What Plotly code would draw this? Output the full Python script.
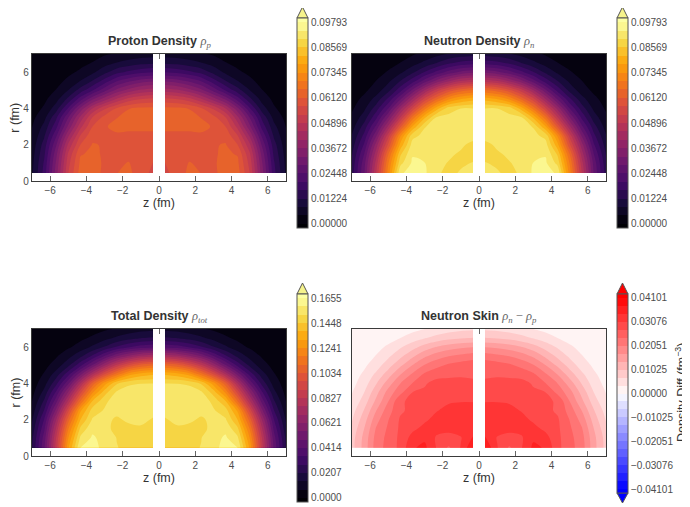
import plotly.graph_objects as go

# ---------- data (right half, mirrored about z = 0) ----------
z_half = [0.33, 1.0, 1.67, 2.33, 3.0, 3.67, 4.33, 5.0, 5.67, 6.33, 7.0]
r_vals = [0.45, 1.0, 1.5, 2.0, 2.5, 3.0, 3.5, 4.0, 4.5, 5.0, 5.5, 6.0, 6.5, 7.0]

rho_p = [
    [.0563, .0586, .0623, .0611, .0605, .0626, .0630, .0530, .0347, .0178, .0075],
    [.0570, .0593, .0614, .0605, .0608, .0623, .0621, .0516, .0333, .0169, .0070],
    [.0586, .0595, .0600, .0600, .0608, .0619, .0609, .0497, .0314, .0155, .0064],
    [.0593, .0595, .0598, .0600, .0609, .0615, .0572, .0459, .0281, .0141, .0056],
    [.0605, .0605, .0605, .0605, .0608, .0600, .0534, .0403, .0239, .0117, .0047],
    [.0619, .0619, .0619, .0623, .0608, .0572, .0478, .0338, .0192, .0094, .0040],
    [.0628, .0628, .0623, .0611, .0586, .0534, .0422, .0286, .0155, .0070, .0030],
    [.0623, .0621, .0611, .0577, .0525, .0450, .0338, .0211, .0103, .0047, .0020],
    [.0544, .0534, .0511, .0459, .0394, .0323, .0230, .0136, .0068, .0032, .0013],
    [.0431, .0417, .0384, .0338, .0272, .0202, .0141, .0083, .0043, .0019, .0008],
    [.0323, .0309, .0281, .0244, .0183, .0127, .0084, .0052, .0026, .0011, .0005],
    [.0202, .0192, .0173, .0150, .0111, .0073, .0049, .0031, .0016, .0007, .0003],
    [.0117, .0111, .0098, .0084, .0064, .0043, .0028, .0017, .0009, .0004, .0002],
    [.0061, .0058, .0052, .0045, .0036, .0023, .0015, .0009, .0005, .0002, .0001],
]
rho_n = [
    [.0905, .0903, .0885, .0905, .0945, .0948, .0935, .0715, .0490, .0280, .0145],
    [.0900, .0890, .0895, .0910, .0940, .0945, .0885, .0690, .0465, .0270, .0135],
    [.0880, .0892, .0905, .0915, .0925, .0935, .0850, .0650, .0430, .0245, .0120],
    [.0885, .0905, .0915, .0920, .0920, .0915, .0790, .0580, .0385, .0210, .0103],
    [.0915, .0915, .0915, .0915, .0910, .0885, .0730, .0515, .0320, .0175, .0085],
    [.0918, .0918, .0915, .0915, .0895, .0780, .0605, .0420, .0255, .0140, .0065],
    [.0915, .0915, .0910, .0905, .0810, .0670, .0495, .0330, .0195, .0103, .0050],
    [.0898, .0898, .0880, .0800, .0680, .0540, .0395, .0245, .0143, .0073, .0035],
    [.0805, .0780, .0735, .0650, .0550, .0415, .0285, .0175, .0098, .0052, .0025],
    [.0660, .0635, .0585, .0510, .0410, .0295, .0190, .0110, .0060, .0032, .0016],
    [.0475, .0455, .0405, .0345, .0265, .0187, .0125, .0074, .0042, .0023, .0012],
    [.0315, .0295, .0262, .0215, .0165, .0114, .0074, .0045, .0026, .0014, .0007],
    [.0188, .0178, .0155, .0124, .0092, .0065, .0042, .0026, .0015, .0008, .0004],
    [.0104, .0097, .0085, .0068, .0052, .0036, .0024, .0014, .0008, .0004, .0002],
]
rho_tot = [
    [.1490, .1495, .1500, .1520, .1570, .1605, .1590, .1300, .0860, .0470, .0205],
    [.1500, .1500, .1502, .1515, .1565, .1595, .1530, .1240, .0830, .0445, .0190],
    [.1505, .1510, .1505, .1505, .1530, .1570, .1465, .1170, .0770, .0400, .0160],
    [.1513, .1528, .1525, .1510, .1530, .1525, .1380, .1075, .0690, .0350, .0130],
    [.1530, .1540, .1540, .1530, .1525, .1480, .1300, .0945, .0575, .0280, .0100],
    [.1575, .1575, .1570, .1560, .1500, .1390, .1115, .0780, .0460, .0220, .0070],
    [.1580, .1580, .1570, .1530, .1420, .1230, .0945, .0630, .0360, .0160, .0048],
    [.1517, .1515, .1500, .1440, .1280, .1060, .0760, .0470, .0255, .0110, .0034],
    [.1370, .1345, .1280, .1140, .0970, .0760, .0530, .0320, .0170, .0075, .0024],
    [.1100, .1060, .0975, .0850, .0680, .0490, .0325, .0190, .0098, .0048, .0016],
    [.0750, .0715, .0640, .0550, .0420, .0290, .0190, .0115, .0062, .0030, .0012],
    [.0400, .0380, .0340, .0285, .0215, .0150, .0098, .0060, .0034, .0017, .0008],
    [.0215, .0205, .0180, .0150, .0115, .0080, .0054, .0033, .0019, .0010, .0005],
    [.0120, .0112, .0095, .0075, .0058, .0042, .0028, .0017, .0009, .0004, .0002],
]
rho_diff = [
    [.0375, .0310, .0268, .0305, .0350, .0338, .0283, .0252, .0222, .0150, .0090],
    [.0345, .0305, .0298, .0303, .0335, .0320, .0282, .0250, .0218, .0147, .0088],
    [.0325, .0322, .0315, .0318, .0318, .0300, .0280, .0245, .0208, .0137, .0078],
    [.0318, .0318, .0318, .0318, .0302, .0288, .0278, .0238, .0192, .0122, .0066],
    [.0315, .0315, .0318, .0306, .0293, .0283, .0268, .0225, .0170, .0105, .0055],
    [.0307, .0307, .0304, .0292, .0285, .0279, .0270, .0205, .0145, .0085, .0040],
    [.0297, .0297, .0293, .0285, .0277, .0274, .0230, .0185, .0125, .0068, .0033],
    [.0285, .0285, .0283, .0281, .0271, .0240, .0205, .0155, .0100, .0052, .0024],
    [.0262, .0268, .0267, .0265, .0245, .0210, .0170, .0120, .0075, .0040, .0018],
    [.0258, .0255, .0246, .0228, .0208, .0172, .0130, .0088, .0052, .0028, .0012],
    [.0225, .0215, .0205, .0190, .0165, .0130, .0095, .0062, .0036, .0018, .0008],
    [.0170, .0165, .0155, .0140, .0118, .0090, .0065, .0040, .0024, .0012, .0005],
    [.0104, .0100, .0092, .0080, .0066, .0050, .0034, .0021, .0012, .0006, .0002],
    [.0063, .0060, .0054, .0045, .0034, .0024, .0016, .0009, .0005, .0002, .0001],
]

vmax_pn = 0.09793
vmax_tot = 0.1655
vmax_diff = 0.04101
ticks_pn = ["0.00000", "0.01224", "0.02448", "0.03672", "0.04896", "0.06120", "0.07345", "0.08569", "0.09793"]
ticks_tot = ["0.0000", "0.0207", "0.0414", "0.0621", "0.0827", "0.1034", "0.1241", "0.1448", "0.1655"]
ticks_diff = ["\u22120.04101", "\u22120.03076", "\u22120.02051", "\u22120.01025", "0.00000",
              "0.01025", "0.02051", "0.03076", "0.04101"]

INFERNO_STOPS = [(0, 0, 4), (22, 11, 57), (66, 10, 104), (106, 23, 110), (147, 38, 103), (188, 55, 84),
                 (221, 81, 58), (243, 120, 25), (252, 165, 10), (246, 215, 70), (252, 255, 164)]
BWR_STOPS = [(0, 0, 255), (255, 255, 255), (255, 0, 0)]


def sample(stops, t):
    t = min(max(t, 0), 1) * (len(stops) - 1)
    i = min(int(t), len(stops) - 2)
    f = t - i
    r, g, b = [round(a + (c - a) * f) for a, c in zip(stops[i], stops[i + 1])]
    return f"rgb({r},{g},{b})"


def band_scale(stops):
    # plotly looks a band up at (k + 1) / 25; matplotlib colours it at (k + 0.5) / 24
    return [[i / 25, sample(stops, (i - 0.5) / 24)] for i in range(26)]


INFERNO = band_scale(INFERNO_STOPS)
BWR = band_scale(BWR_STOPS)

W, H = 690, 507
OFF = 8  # the page body's default margin
FONT = "Liberation Sans"
TICK_C = "#4d4d4d"
TEXT_C = "#333333"
LINE_C = "#3a3a3a"


def X(px):
    return (px - OFF) / (W - OFF)


def Y(px):
    return 1 - (px - OFF) / (H - OFF)


panels = [
    dict(rows=rho_p, vmin=0, vmax=vmax_pn, labels=ticks_pn, cs=INFERNO, box=(32, 286, 54, 181.3), bar=(297, 308, 18, 228),
         title="Proton Density", sym="<i>\u03c1</i><sub><i>p</i></sub>", ylab=True),
    dict(rows=rho_n, vmin=0, vmax=vmax_pn, labels=ticks_pn, cs=INFERNO, box=(352, 606, 54, 181.3), bar=(617, 628, 18, 228),
         title="Neutron Density", sym="<i>\u03c1</i><sub><i>n</i></sub>", ylab=False),
    dict(rows=rho_tot, vmin=0, vmax=vmax_tot, labels=ticks_tot, cs=INFERNO, box=(32, 286, 329, 456), bar=(297, 308, 294, 502),
         title="Total Density", sym="<i>\u03c1</i><sub><i>tot</i></sub>", ylab=True),
    dict(rows=rho_diff, vmin=-vmax_diff, vmax=vmax_diff, labels=ticks_diff, cs=BWR, box=(352, 606, 329, 456), bar=(617, 628, 294, 493),
         title="Neutron Skin", sym="<i>\u03c1</i><sub><i>n</i></sub> \u2212 <i>\u03c1</i><sub><i>p</i></sub>", ylab=False),
]

fig = go.Figure()
annotations, shapes = [], []
z_left = [-v for v in reversed(z_half)]

layout_axes = {}
for n, p in enumerate(panels, start=1):
    xa, ya = ("x", "y") if n == 1 else (f"x{n}", f"y{n}")
    size = (p["vmax"] - p["vmin"]) / 24
    contours = dict(start=p["vmin"], end=p["vmax"], size=size, coloring="fill", showlines=False)
    x0, x1, y0, y1 = p["box"]
    bx0, bx1, by0, by1 = p["bar"]
    step = (p["vmax"] - p["vmin"]) / 8
    tickvals = [p["vmin"] + i * step for i in range(9)]
    cbar = dict(x=X(bx0), xanchor="left", xpad=0, y=Y(by1), yanchor="bottom", ypad=0,
                thickness=bx1 - bx0, thicknessmode="pixels", len=by1 - by0, lenmode="pixels",
                tickmode="array", tickvals=tickvals, ticktext=p["labels"], ticks="", ticklen=0,
                tickfont=dict(family=FONT, size=10, color=TICK_C),
                outlinecolor="#555555", outlinewidth=1, borderwidth=0)
    fig.add_trace(go.Contour(x=z_half, y=r_vals, z=p["rows"], contours=contours, colorscale=p["cs"],
                             line=dict(width=0), colorbar=cbar, showscale=True, hoverinfo="skip",
                             xaxis=xa, yaxis=ya))
    fig.add_trace(go.Contour(x=z_left, y=r_vals, z=[row[::-1] for row in p["rows"]], contours=contours,
                             colorscale=p["cs"], line=dict(width=0), showscale=False, hoverinfo="skip",
                             xaxis=xa, yaxis=ya))

    suffix = "" if n == 1 else str(n)
    common = dict(ticks="inside", ticklen=5, tickwidth=1, tickcolor="#666666", showgrid=False, zeroline=False,
                  showline=True, linecolor=LINE_C, linewidth=1.3, mirror="ticks", layer="below traces",
                  tickfont=dict(family=FONT, size=10, color=TICK_C))
    layout_axes[f"xaxis{suffix}"] = dict(domain=[X(x0), X(x1)], range=[-7, 7], tickmode="array",
                                         tickvals=[-6, -4, -2, 0, 2, 4, 6], anchor=ya, **common)
    layout_axes[f"yaxis{suffix}"] = dict(domain=[Y(y1), Y(y0)], range=[0, 7], tickmode="array",
                                         tickvals=[0, 2, 4, 6], showticklabels=p["ylab"], anchor=xa, **common)

    xc = (x0 + x1) / 2
    annotations.append(dict(text=f"<b>{p['title']}</b> <span style=\"font-family:'Liberation Serif';color:#666666\">{p['sym']}</span>",
                            x=X(xc), y=Y(y0 - 12.5), xref="paper", yref="paper", showarrow=False,
                            xanchor="center", yanchor="middle", font=dict(family=FONT, size=12.5, color=TEXT_C)))
    annotations.append(dict(text="z (fm)", x=X(xc), y=Y(y1 + 22), xref="paper", yref="paper", showarrow=False,
                            xanchor="center", yanchor="middle", font=dict(family=FONT, size=12.5, color=TEXT_C)))
    if p["ylab"]:
        annotations.append(dict(text="r (fm)", x=X(15), y=Y((y0 + y1) / 2), xref="paper", yref="paper", showarrow=False,
                                textangle=-90, xanchor="center", yanchor="middle",
                                font=dict(family=FONT, size=12.5, color=TEXT_C)))

    # colorbar extend arrows
    mx = (bx0 + bx1) / 2
    top_col = "rgb(245,243,140)" if p["cs"] is INFERNO else "#ff0000"
    shapes.append(dict(type="path", xref="paper", yref="paper", layer="above",
                       path=f"M {X(bx0)} {Y(by0)} L {X(mx)} {Y(by0 - 11)} L {X(bx1)} {Y(by0)} Z",
                       fillcolor=top_col, line=dict(color="#555555", width=1)))
    if p["cs"] is BWR:
        shapes.append(dict(type="path", xref="paper", yref="paper", layer="above",
                           path=f"M {X(bx0)} {Y(by1)} L {X(mx)} {Y(by1 + 10)} L {X(bx1)} {Y(by1)} Z",
                           fillcolor="#0000ff", line=dict(color="#555555", width=1)))

annotations.append(dict(text="Density Diff (fm<sup>\u22123</sup>)", x=X(681), y=Y(393), xref="paper", yref="paper",
                        showarrow=False, textangle=-90, xanchor="center", yanchor="middle",
                        font=dict(family=FONT, size=12.5, color=TEXT_C)))

fig.update_layout(width=W - OFF, height=H - OFF, autosize=False,
                  margin=dict(l=0, r=0, t=0, b=0, pad=0, autoexpand=False),
                  paper_bgcolor="white", plot_bgcolor="white", showlegend=False,
                  annotations=annotations, shapes=shapes, **layout_axes)
fig.write_html("out.html")
